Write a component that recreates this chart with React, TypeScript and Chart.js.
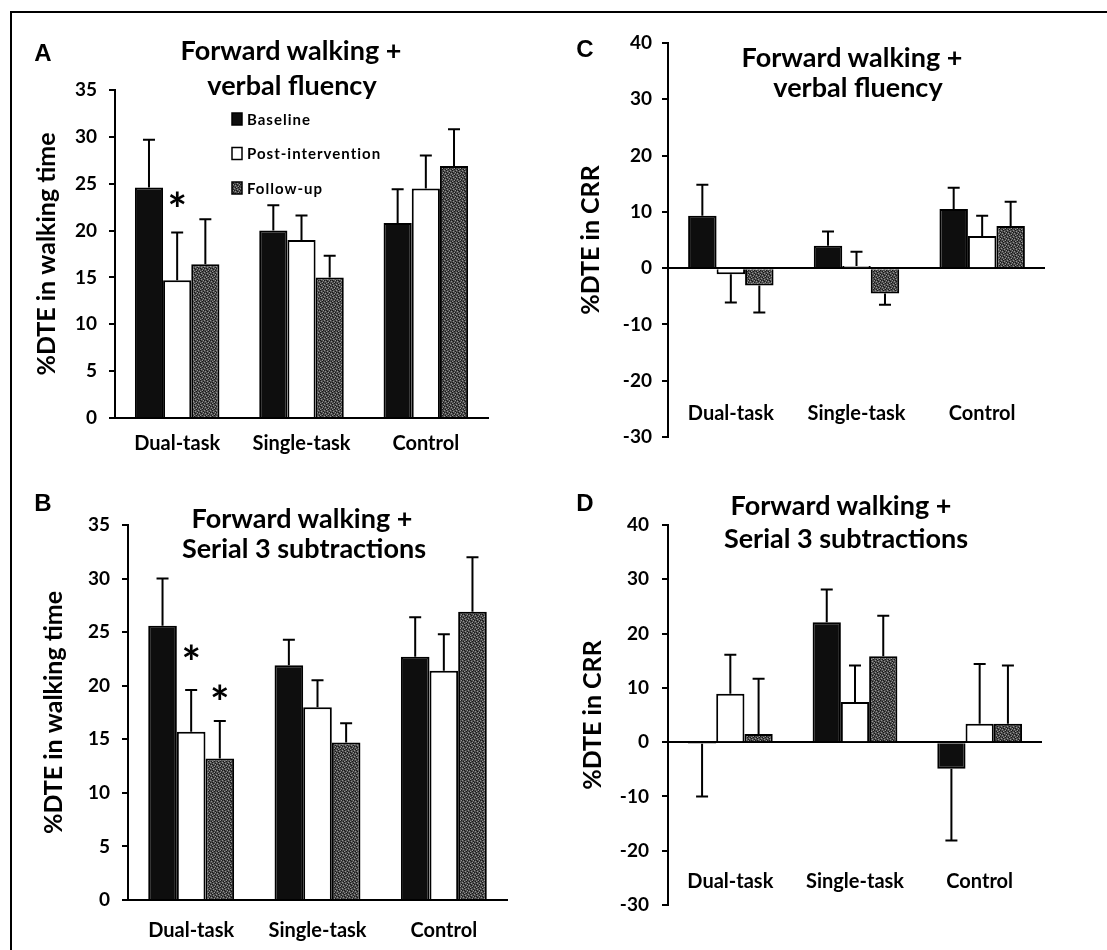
import React, { useEffect, useRef } from "react";
import { Chart, registerables } from "chart.js";

Chart.register(...registerables);

// ---------- data ----------
const groups = ["Dual-task", "Single-task", "Control"];
const seriesNames = ["Baseline", "Post-intervention", "Follow-up"];

// A: Forward walking + verbal fluency, %DTE in walking time
const walkVerbalBaseline = [24.6, 20.0, 20.8];
const walkVerbalPost = [14.7, 19.0, 24.5];
const walkVerbalFollow = [16.4, 15.0, 26.9];
const walkVerbalBaselineSD = [5.1, 2.7, 3.6];
const walkVerbalPostSD = [5.1, 2.6, 3.5];
const walkVerbalFollowSD = [4.8, 2.3, 3.9];

// B: Forward walking + Serial 3 subtractions, %DTE in walking time
const walkSerialBaseline = [25.6, 21.9, 22.7];
const walkSerialPost = [15.7, 18.0, 21.4];
const walkSerialFollow = [13.2, 14.7, 26.9];
const walkSerialBaselineSD = [4.4, 2.4, 3.7];
const walkSerialPostSD = [3.9, 2.5, 3.4];
const walkSerialFollowSD = [3.5, 1.8, 5.1];

// C: Forward walking + verbal fluency, %DTE in CRR
const crrVerbalBaseline = [9.3, 4.0, 10.5];
const crrVerbalPost = [-1.1, 0.4, 5.7];
const crrVerbalFollow = [-3.1, -4.5, 7.5];
const crrVerbalBaselineSD = [5.5, 2.5, 3.8];
const crrVerbalPostSD = [5.0, 2.5, 3.6];
const crrVerbalFollowSD = [4.8, 2.0, 4.3];

// D: Forward walking + Serial 3 subtractions, %DTE in CRR
const crrSerialBaseline = [-0.3, 22.1, -4.9];
const crrSerialPost = [8.9, 7.4, 3.4];
const crrSerialFollow = [1.5, 15.8, 3.4];
const crrSerialBaselineSD = [9.7, 6.0, 13.2];
const crrSerialPostSD = [7.2, 6.7, 11.0];
const crrSerialFollowSD = [10.2, 7.5, 10.7];

// axis ranges / tick steps
const walkAxis = { min: 0, max: 35, step: 5 };
const crrAxis = { min: -30, max: 40, step: 10 };

// significance markers (series index, group index, value at which the * sits)
const sigWalkVerbal = [{ series: 1, group: 0, value: 23.3 }];
const sigWalkSerial = [
  { series: 1, group: 0, value: 23.1 },
  { series: 2, group: 0, value: 19.3 },
];

// ---------- layout ----------
const FONT = "Lato, 'Noto Sans', sans-serif";
const LETTER_FONT = "'Liberation Sans', Arial, sans-serif";

const panels = [
  {
    id: "A",
    box: { x: 12, y: 14, w: 530, h: 448 },
    plot: { l: 115, t: 90, r: 488, b: 418 },
    xH: 44, xPad: 14, xMirror: false, zero: false,
    axis: walkAxis, yTitle: "%DTE in walking time", yTitlePad: 20, yTickPad: 12,
    data: [walkVerbalBaseline, walkVerbalPost, walkVerbalFollow],
    sd: [walkVerbalBaselineSD, walkVerbalPostSD, walkVerbalFollowSD],
    sig: sigWalkVerbal,
    legend: { x: 232, y: 119, gap: 34.5 },
  },
  {
    id: "C",
    box: { x: 545, y: 14, w: 560, h: 446 },
    plot: { l: 668, t: 43, r: 1045, b: 437 },
    xH: 10, xPad: 11, xMirror: true, zero: true,
    axis: crrAxis, yTitle: "%DTE in CRR", yTitlePad: 31, yTickPad: 10,
    data: [crrVerbalBaseline, crrVerbalPost, crrVerbalFollow],
    sd: [crrVerbalBaselineSD, crrVerbalPostSD, crrVerbalFollowSD],
    sig: [],
    legend: null,
  },
  {
    id: "B",
    box: { x: 12, y: 462, w: 530, h: 488 },
    plot: { l: 128, t: 525, r: 507, b: 900 },
    xH: 48, xPad: 19, xMirror: false, zero: false,
    axis: walkAxis, yTitle: "%DTE in walking time", yTitlePad: 27, yTickPad: 12,
    data: [walkSerialBaseline, walkSerialPost, walkSerialFollow],
    sd: [walkSerialBaselineSD, walkSerialPostSD, walkSerialFollowSD],
    sig: sigWalkSerial,
    legend: null,
  },
  {
    id: "D",
    box: { x: 545, y: 462, w: 560, h: 486 },
    plot: { l: 668, t: 525, r: 1042, b: 905 },
    xH: 10, xPad: 11, xMirror: true, zero: true,
    axis: crrAxis, yTitle: "%DTE in CRR", yTitlePad: 33, yTickPad: 13,
    data: [crrSerialBaseline, crrSerialPost, crrSerialFollow],
    sd: [crrSerialBaselineSD, crrSerialPostSD, crrSerialFollowSD],
    sig: [],
    legend: null,
  },
];

const labels = [
  { t: "A", x: 43, base: 62, size: 24, family: LETTER_FONT },
  { t: "Forward walking +", x: 291, base: 60, size: 27 },
  { t: "verbal fluency", x: 292, base: 95, size: 27 },
  { t: "C", x: 585, base: 58, size: 24, family: LETTER_FONT },
  { t: "Forward walking +", x: 852, base: 67, size: 27 },
  { t: "verbal fluency", x: 858, base: 97, size: 27 },
  { t: "B", x: 43, base: 512, size: 24, family: LETTER_FONT },
  { t: "Forward walking +", x: 302, base: 528, size: 27 },
  { t: "Serial 3 subtractions", x: 304, base: 558, size: 27 },
  { t: "D", x: 585, base: 512, size: 24, family: LETTER_FONT },
  { t: "Forward walking +", x: 841, base: 515, size: 27 },
  { t: "Serial 3 subtractions", x: 846, base: 548, size: 27 },
];

function makePattern(): CanvasPattern | string {
  const c = document.createElement("canvas");
  c.width = 6;
  c.height = 6;
  const g = c.getContext("2d");
  if (!g) return "#555";
  g.fillStyle = "#4c4c4c";
  g.fillRect(0, 0, 6, 6);
  g.fillStyle = "#959595";
  [[0, 0], [3, 1], [1, 3], [4, 4], [2, 5], [5, 2]].forEach(([x, y]) => g.fillRect(x, y, 1, 1));
  g.fillStyle = "#181818";
  [[2, 0], [5, 1], [0, 2], [3, 3], [1, 5], [4, 5], [2, 2], [5, 4]].forEach(([x, y]) => g.fillRect(x, y, 1, 1));
  return g.createPattern(c, "repeat") || "#555";
}

function buildConfig(p: any, pattern: any) {
  const fills = ["#0e0e0e", "#ffffff", pattern];
  const datasets = p.data.map((vals: number[], i: number) => ({
    label: seriesNames[i],
    data: vals,
    errors: p.sd[i],
    backgroundColor: fills[i],
    borderColor: "#000",
    borderWidth: 2,
    categoryPercentage: 0.68,
    barPercentage: 1.0,
  }));

  const yW = p.plot.l - p.box.x;
  const padTop = p.plot.t - p.box.y;
  const padRight = p.box.x + p.box.w - p.plot.r;
  const padBottom = Math.max(0, p.box.y + p.box.h - p.plot.b - p.xH);

  const errorBars = {
    id: "errorBars" + p.id,
    afterDatasetsDraw(chart: any) {
      const ctx = chart.ctx;
      const ys = chart.scales.y;
      ctx.save();
      ctx.strokeStyle = "#000";
      ctx.lineWidth = 2;
      chart.data.datasets.forEach((ds: any, i: number) => {
        const meta = chart.getDatasetMeta(i);
        meta.data.forEach((bar: any, j: number) => {
          const v = ds.data[j];
          const e = ds.errors[j];
          const sign = v < 0 ? -1 : 1;
          const y0 = ys.getPixelForValue(v);
          const y1 = ys.getPixelForValue(v + sign * e);
          ctx.beginPath();
          ctx.moveTo(bar.x, y0);
          ctx.lineTo(bar.x, y1);
          ctx.moveTo(bar.x - 6, y1);
          ctx.lineTo(bar.x + 6, y1);
          ctx.stroke();
        });
      });
      ctx.restore();
    },
  };

  const sigMarks = {
    id: "sig" + p.id,
    afterDatasetsDraw(chart: any) {
      const ctx = chart.ctx;
      const ys = chart.scales.y;
      ctx.save();
      ctx.fillStyle = "#000";
      ctx.font = `bold 46px ${FONT}`;
      ctx.textAlign = "center";
      ctx.textBaseline = "alphabetic";
      p.sig.forEach((m: any) => {
        const bar = chart.getDatasetMeta(m.series).data[m.group];
        const y = ys.getPixelForValue(m.value);
        ctx.fillText("*", bar.x, y + 26);
      });
      ctx.restore();
    },
  };

  const miniLegend = {
    id: "legend" + p.id,
    afterDraw(chart: any) {
      if (!p.legend) return;
      const ctx = chart.ctx;
      ctx.save();
      ctx.font = `bold 15px ${FONT}`;
      try {
        (ctx as any).letterSpacing = "1px";
      } catch (e) {}
      ctx.textBaseline = "middle";
      ctx.textAlign = "left";
      chart.data.datasets.forEach((ds: any, i: number) => {
        const x = p.legend.x - p.box.x;
        const y = p.legend.y - p.box.y + i * p.legend.gap;
        ctx.fillStyle = ds.backgroundColor;
        ctx.fillRect(x, y - 6, 10, 12);
        ctx.strokeStyle = "#000";
        ctx.lineWidth = 1.5;
        ctx.strokeRect(x, y - 6, 10, 12);
        ctx.fillStyle = "#000";
        ctx.fillText(ds.label, x + 15, y + 1);
      });
      ctx.restore();
    },
  };

  return {
    type: "bar",
    data: { labels: groups, datasets },
    plugins: [errorBars, sigMarks, miniLegend],
    options: {
      responsive: false,
      maintainAspectRatio: false,
      animation: false,
      layout: { padding: { left: 0, top: padTop, right: padRight, bottom: padBottom } },
      plugins: {
        legend: { display: false },
        tooltip: { enabled: false },
        title: { display: false },
      },
      scales: {
        x: {
          type: "category",
          offset: true,
          grid: { display: false, drawTicks: false },
          border: { display: !p.zero, color: "#000", width: 2 },
          ticks: {
            color: "#000",
            font: { family: FONT, weight: "bold", size: 20 },
            padding: p.xPad,
            mirror: p.xMirror,
            maxRotation: 0,
            autoSkip: false,
          },
          afterFit: (s: any) => {
            s.height = p.xH;
          },
        },
        y: {
          min: p.axis.min,
          max: p.axis.max,
          ticks: {
            stepSize: p.axis.step,
            color: "#000",
            font: { family: FONT, weight: "bold", size: 19 },
            padding: p.yTickPad,
          },
          grid: {
            drawOnChartArea: p.zero,
            color: (c: any) => (c.tick && c.tick.value === 0 ? "#000" : "rgba(0,0,0,0)"),
            lineWidth: 2,
            tickLength: 6,
            tickColor: "#000",
            tickWidth: 2,
          },
          border: { display: true, color: "#000", width: 2 },
          title: {
            display: true,
            text: p.yTitle,
            color: "#000",
            font: { family: FONT, weight: "bold", size: 25 },
            padding: { top: p.yTitlePad, bottom: 0 },
          },
          afterFit: (s: any) => {
            s.width = yW;
          },
        },
      },
    },
  };
}

export default function App() {
  const r0 = useRef<HTMLCanvasElement>(null);
  const r1 = useRef<HTMLCanvasElement>(null);
  const r2 = useRef<HTMLCanvasElement>(null);
  const r3 = useRef<HTMLCanvasElement>(null);
  const refs = [r0, r1, r2, r3];

  useEffect(() => {
    const pattern = makePattern();
    const charts = panels.map((p, i) => new Chart(refs[i].current as HTMLCanvasElement, buildConfig(p, pattern) as any));
    return () => charts.forEach((c) => c.destroy());
  }, []);

  return (
    <div
      style={{
        position: "absolute",
        left: 0,
        top: 0,
        width: 1107,
        height: 950,
        background: "#fff",
        overflow: "hidden",
        fontFamily: FONT,
      }}
    >
      <div
        style={{
          position: "absolute",
          left: 10,
          top: 11,
          width: 1097,
          height: 939,
          borderTop: "2px solid #000",
          borderLeft: "2px solid #000",
          boxSizing: "border-box",
        }}
      />
      {panels.map((p, i) => (
        <canvas
          key={p.id}
          ref={refs[i]}
          width={p.box.w}
          height={p.box.h}
          style={{ position: "absolute", left: p.box.x, top: p.box.y, width: p.box.w, height: p.box.h }}
        />
      ))}
      {labels.map((l, i) => (
        <div
          key={i}
          style={{
            position: "absolute",
            left: l.x,
            top: l.base - 0.887 * l.size,
            fontSize: l.size,
            lineHeight: 1,
            transform: "translateX(-50%)",
            whiteSpace: "nowrap",
            fontWeight: 700,
            fontFamily: l.family || FONT,
            color: "#000",
          }}
        >
          {l.t}
        </div>
      ))}
    </div>
  );
}
